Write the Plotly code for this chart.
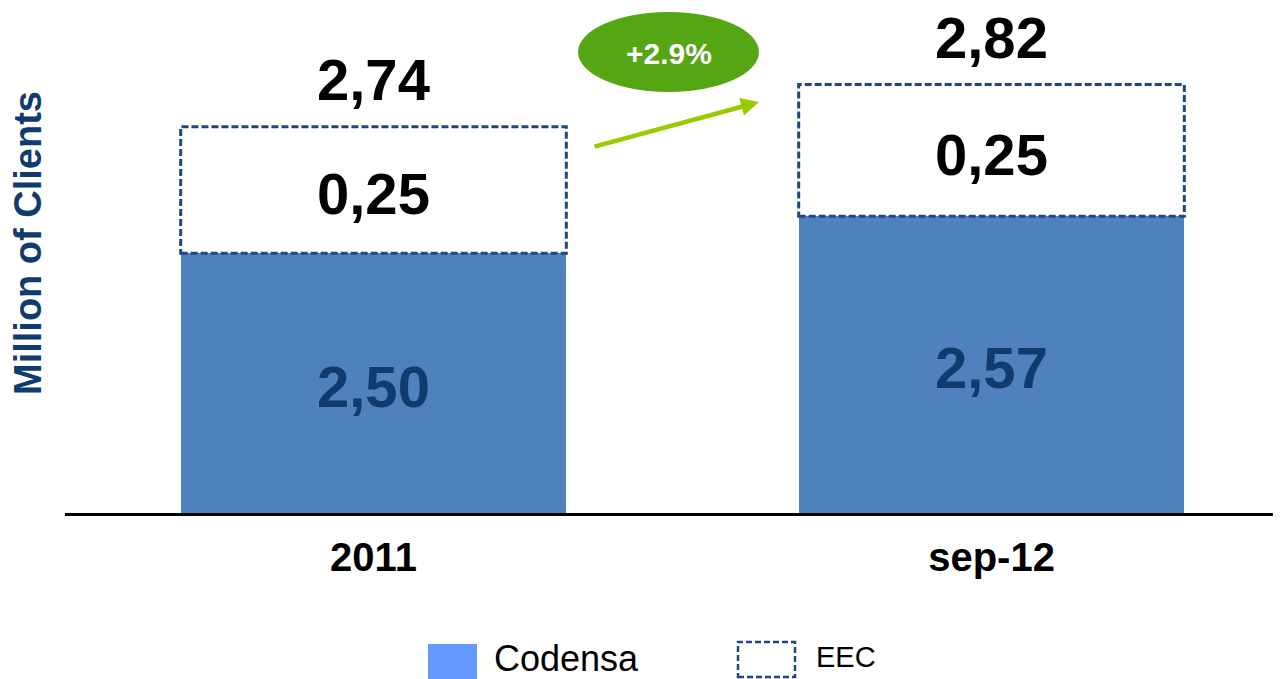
import plotly.graph_objects as go

# ---- data ----
categories = ["2011", "sep-12"]
codensa = [2.50, 2.57]
eec = [0.24, 0.25]
codensa_labels = ["2,50", "2,57"]
eec_labels = ["0,25", "0,25"]
total_labels = ["2,74", "2,82"]
growth_label = "+2.9%"
y_title = "Million of Clients"
legend_names = ["Codensa", "EEC"]

# ---- layout constants (page body has an 8px margin) ----
OFF = 8
W, H = 1281 - OFF, 679 - OFF
ML, MR, MT = 65 - OFF, 0, 0
PLOT_BOTTOM = 513 - OFF
MB = H - PLOT_BOTTOM
PW, PH = W - ML - MR, PLOT_BOTTOM - MT
Y_MIN = 2.007
Y_MAX = Y_MIN + PH / 527.0
X_MIN = -0.4992
X_MAX = X_MIN + PW / 618.0
BAR_W = 0.624
FONT = "Liberation Sans, Arial, sans-serif"
DARK = "#0F3B6E"
DASH_C = "#1F497D"


def px(x):
    # screen x (reference picture) -> paper x
    return (x - OFF - ML) / PW


def py(y):
    # screen y (reference picture) -> paper y
    return (PLOT_BOTTOM - (y - OFF)) / PH


xs = list(range(len(categories)))
totals = [c + e for c, e in zip(codensa, eec)]

fig = go.Figure()
fig.add_trace(go.Bar(x=xs, y=codensa, width=BAR_W, name=legend_names[0],
                     marker=dict(color="#4F81BD", line=dict(width=0)),
                     showlegend=False, hoverinfo="skip"))
fig.add_trace(go.Bar(x=xs, y=eec, width=BAR_W, name=legend_names[1],
                     marker=dict(color="white", line=dict(width=0)),
                     showlegend=False, hoverinfo="skip"))

shapes = []
annotations = []
for i, (c, e) in enumerate(zip(codensa, eec)):
    # dashed outline of the EEC segment
    shapes.append(dict(type="rect", xref="x", yref="y",
                       x0=xs[i] - BAR_W / 2, x1=xs[i] + BAR_W / 2, y0=c, y1=c + e,
                       line=dict(color=DASH_C, width=3, dash="7px,3px"),
                       fillcolor="rgba(0,0,0,0)", layer="above"))
    annotations.append(dict(x=xs[i], y=(max(Y_MIN, 0) + c) / 2, xref="x", yref="y",
                            text=codensa_labels[i], showarrow=False, yshift=-3,
                            xanchor="center", yanchor="middle",
                            font=dict(family=FONT, size=58, color=DARK, weight="bold")))
    annotations.append(dict(x=xs[i], y=c + e / 2, xref="x", yref="y",
                            text=eec_labels[i], showarrow=False, yshift=-4,
                            xanchor="center", yanchor="middle",
                            font=dict(family=FONT, size=58, color="black", weight="bold")))
    annotations.append(dict(x=xs[i], y=totals[i], xref="x", yref="y",
                            text=total_labels[i], showarrow=False, yshift=47.5,
                            xanchor="center", yanchor="middle",
                            font=dict(family=FONT, size=58, color="black", weight="bold")))

# growth bubble and arrow
shapes.append(dict(type="circle", xref="paper", yref="paper",
                   x0=px(578), x1=px(759), y0=py(92), y1=py(12),
                   fillcolor="#55A613", line=dict(width=0), layer="above"))
annotations.append(dict(x=px(668.5), y=py(54), xref="paper", yref="paper",
                        text=growth_label, showarrow=False,
                        xanchor="center", yanchor="middle",
                        font=dict(family=FONT, size=30, color="white", weight="bold")))
annotations.append(dict(x=px(759), y=py(102), xref="paper", yref="paper",
                        text="", showarrow=True, ax=-166, ay=45,
                        arrowhead=2, arrowsize=0.8, arrowwidth=4.5,
                        arrowcolor="#99CC00"))

# y-axis title
annotations.append(dict(x=px(28), y=py(243), xref="paper", yref="paper",
                        text=y_title, showarrow=False, textangle=-90,
                        xanchor="center", yanchor="middle",
                        font=dict(family=FONT, size=38, color=DARK, weight="bold")))

# custom legend
shapes.append(dict(type="rect", xref="paper", yref="paper",
                   x0=px(428), x1=px(477), y0=py(690), y1=py(644),
                   fillcolor="#6699FF", line=dict(width=0)))
annotations.append(dict(x=px(492), y=py(658), xref="paper", yref="paper",
                        xanchor="left", yanchor="middle",
                        text=legend_names[0], showarrow=False,
                        font=dict(family=FONT, size=36, color="black")))
shapes.append(dict(type="rect", xref="paper", yref="paper",
                   x0=px(738), x1=px(795), y0=py(677), y1=py(642),
                   fillcolor="rgba(0,0,0,0)",
                   line=dict(color=DASH_C, width=2.5, dash="6px,3px")))
annotations.append(dict(x=px(814), y=py(656.5), xref="paper", yref="paper",
                        xanchor="left", yanchor="middle",
                        text=legend_names[1], showarrow=False,
                        font=dict(family=FONT, size=29, color="black")))

fig.update_layout(
    width=W, height=H,
    margin=dict(l=ML, r=MR, t=MT, b=MB, pad=0),
    barmode="stack",
    paper_bgcolor="white", plot_bgcolor="white",
    showlegend=False,
    xaxis=dict(range=[X_MIN, X_MAX], tickvals=xs, ticktext=categories,
               showline=True, linecolor="black", linewidth=3,
               showgrid=False, zeroline=False, ticks="",
               tickfont=dict(family=FONT, size=40, color="black", weight="bold"),
               ticklabelstandoff=7),
    yaxis=dict(range=[Y_MIN, Y_MAX], showticklabels=False, showgrid=False,
               zeroline=False, showline=False, ticks=""),
    shapes=shapes,
    annotations=annotations,
)

fig.write_html("out.html")
